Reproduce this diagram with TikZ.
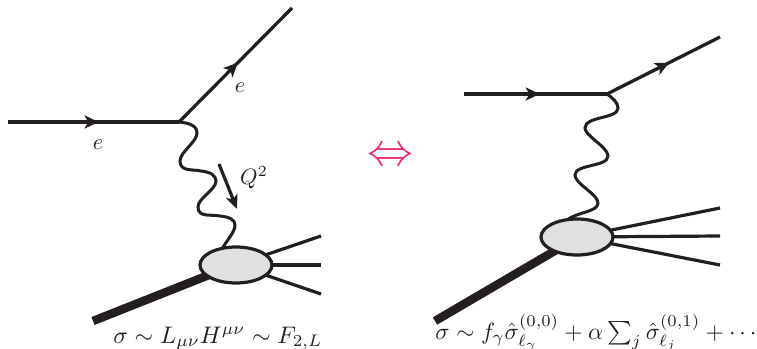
\documentclass[tikz,border=0pt]{standalone}
\usepackage{amsmath}
\usetikzlibrary{arrows.meta,decorations.markings,shapes.geometric}
\definecolor{ink}{HTML}{231F20}
\definecolor{blobfill}{HTML}{E0E0E0}
\definecolor{pinkarrow}{HTML}{EE2A6B}
\tikzset{
  x=1pt,y=-1pt,
  fermion/.style={draw=ink,line width=3.3pt,postaction={decorate},
    decoration={markings,mark=at position #1 with {\arrow[ink]{Stealth[length=14pt,width=13pt,inset=3.5pt]}}}},
  plain/.style={draw=ink,line width=3.2pt},
  photon/.style={draw=ink,line width=3pt,line cap=round},
  beam/.style={draw=ink,line width=8.5pt},
  blob/.style={ellipse,draw=ink,line width=3.2pt,fill=blobfill,minimum width=72pt,minimum height=36pt,inner sep=0pt},
  lab/.style={text=ink,inner sep=0pt,scale=2.22,transform shape},
}
\begin{document}
\begin{tikzpicture}
\useasboundingbox (0,0) rectangle (757,348);
\clip (0,0) rectangle (757,348);
% left diagram
\coordinate (lin) at (8,122);
\coordinate (lv) at (179,122);
\coordinate (lout) at (292,8);
\coordinate (lb) at (93,321);
\coordinate (lp1) at (321,236);
\coordinate (lp2) at (321,265);
\coordinate (lp3) at (321,294);
\coordinate (qa) at (219,164);
\coordinate (qb) at (237,209);
\draw[fermion=0.53] (lin) -- (lv);
\draw[fermion=0.52] (lv) -- (lout);
\draw[beam] (lb) -- (214,273);
\draw[plain] (236,265) -- (lp1);
\draw[plain] (236,265) -- (lp2);
\draw[plain] (236,265) -- (lp3);
\draw[photon] (lv) .. controls (190,123) and (197,126) .. (197,133)
  .. controls (197,142) and (180,152) .. (180,161)
  .. controls (180,172) and (193,169) .. (201,171)
  .. controls (210,172) and (216,175) .. (216,181)
  .. controls (216,190) and (198,198) .. (198,207)
  .. controls (198,218) and (211,214) .. (220,216)
  .. controls (230,217) and (235,220) .. (235,225)
  .. controls (235,232) and (227,240) .. (222,249);
\node[blob] (lblob) at (236,265) {};
\draw[ink,line width=3.2pt,-{Stealth[length=14pt,width=12pt,inset=3.5pt]}] (qa) -- (qb);
\node[lab] (le1) at (98,145) {$e$};
\node[lab] (le2) at (240,88) {$e$};
\node[lab] (lq) at (254,178) {$Q^2$};
\node[lab,anchor=base west,scale=1.08] (lf) at (113,343) {$\sigma\sim L_{\mu\nu}H^{\mu\nu}\sim F_{2,L}$};
% equivalence
\node[inner sep=0pt,text=pinkarrow,scale=4.6,transform shape] (eq) at (390,157) {$\Leftrightarrow$};
% right diagram
\coordinate (rin) at (464,94);
\coordinate (rv) at (607,94);
\coordinate (rout) at (720,37);
\coordinate (rb) at (435,321);
\coordinate (rp1) at (720,208);
\coordinate (rp2) at (720,236);
\coordinate (rp3) at (720,265);
\draw[fermion=0.53] (rin) -- (rv);
\draw[fermion=0.55] (rv) -- (rout);
\draw[beam] (rb) -- (558,249);
\draw[plain] (577,237) -- (rp1);
\draw[plain] (577,237) -- (rp2);
\draw[plain] (577,237) -- (rp3);
\draw[photon] (rv) .. controls (613,98) and (618,103) .. (618,108)
  .. controls (618,119) and (585,116) .. (585,128)
  .. controls (585,136) and (608,147) .. (608,156)
  .. controls (608,167) and (575,164) .. (575,175)
  .. controls (575,184) and (598,194) .. (598,203)
  .. controls (598,212) and (577,212) .. (567,220);
\node[blob] (rblob) at (577,237) {};
\node[lab,anchor=base west,scale=1.06] (rf) at (435,339) {$\sigma\sim f_\gamma\hat\sigma^{(0,0)}_{\ell_\gamma}+\alpha\sum_j\hat\sigma^{(0,1)}_{\ell_j}+\cdots$};
\end{tikzpicture}
\end{document}
